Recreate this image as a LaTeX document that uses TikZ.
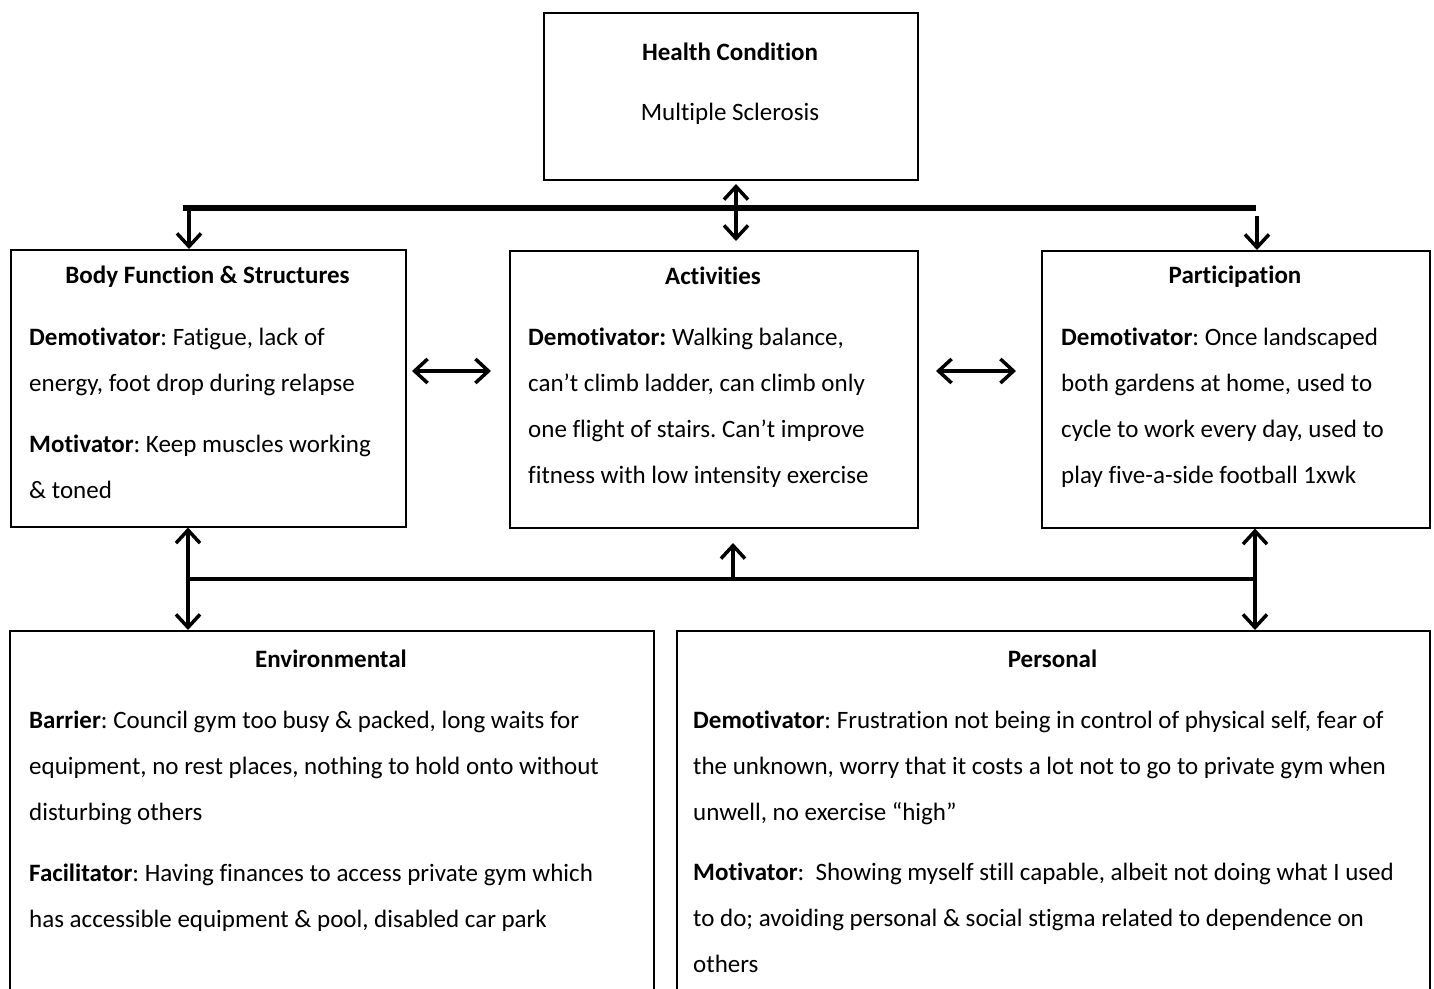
\documentclass[tikz,border=0pt]{standalone}
\usepackage{fontspec}
\setmainfont{Carlito}[Ligatures=NoCommon]
\usetikzlibrary{arrows.meta}
\frenchspacing

\tikzset{
  box/.style={draw, line width=1.5pt, inner sep=0pt, anchor=north west},
  boxtitle/.style={anchor=base, inner sep=0pt, font=\fontsize{25}{46}\selectfont\bfseries},
  boxtext/.style={anchor=base, inner sep=0pt, font=\fontsize{25}{46}\selectfont},
  para/.style={anchor=north west, inner sep=0pt, align=left, font=\fontsize{25}{46}\selectfont},
  bus/.style={line width=5.5pt},
  lowbus/.style={line width=4pt},
  arr/.style={line width=3.5pt, -{Straight Barb[length=13pt,width=24pt]}},
  dbl/.style={line width=3.5pt, {Straight Barb[length=13pt,width=24pt]}-{Straight Barb[length=13pt,width=24pt]}},
}

\begin{document}
\begin{tikzpicture}[x=1pt,y=-1pt]
\useasboundingbox (0,0) rectangle (1434,988);
\clip (0,0) rectangle (1434,988);
\fill[white] (0,0) rectangle (1434,988);

% boxes
\node[box, minimum width=374pt, minimum height=167pt] (hc) at (543,12) {};
\node[box, minimum width=395pt, minimum height=277pt] (bfs) at (10,249) {};
\node[box, minimum width=408pt, minimum height=277pt] (act) at (509,250) {};
\node[box, minimum width=388pt, minimum height=277pt] (par) at (1041,250) {};
\node[box, minimum width=644pt, minimum height=380pt] (env) at (9,630) {};
\node[box, minimum width=753pt, minimum height=380pt] (per) at (676,630) {};

% Health condition
\node[boxtitle] (hct) at (730,60) {Health Condition};
\node[boxtext] (hcx) at (730,120) {Multiple Sclerosis};

% Body function & structures
\node[boxtitle] (bfst) at (207.5,283) {Body Function \& Structures};
\node[para] (bfsa) at (29,312.8) {\strut\textbf{Demotivator}: Fatigue, lack of\\energy, foot drop during relapse};
\node[para] (bfsb) at (29,419.8) {\strut\textbf{Motivator}: Keep muscles working\\\& toned};

% Activities
\node[boxtitle] (actt) at (713,284) {Activities};
\node[para] (acta) at (528,312.8) {\strut\textbf{Demotivator:} Walking balance,\\can’t climb ladder, can climb only\\one flight of stairs. Can’t improve\\fitness with low intensity exercise};

% Participation
\node[boxtitle] (part) at (1235,283) {Participation};
\node[para] (para) at (1061,312.8) {\strut\textbf{Demotivator}: Once landscaped\\both gardens at home, used to\\cycle to work every day, used to\\play five-a-side football 1xwk};

% Environmental
\node[boxtitle] (envt) at (331,667) {Environmental};
\node[para] (enva) at (29,695.8) {\strut\textbf{Barrier}: Council gym too busy \& packed, long waits for\\equipment, no rest places, nothing to hold onto without\\disturbing others};
\node[para] (envb) at (29,848.8) {\strut\textbf{Facilitator}: Having finances to access private gym which\\has accessible equipment \& pool, disabled car park};

% Personal
\node[boxtitle] (pert) at (1052.5,667) {Personal};
\node[para] (pera) at (693,695.8) {\strut\textbf{Demotivator}: Frustration not being in control of physical self, fear of\\the unknown, worry that it costs a lot not to go to private gym when\\unwell, no exercise “high”};
\node[para] (perb) at (693,847.8) {\strut\textbf{Motivator}:\ \ Showing myself still capable, albeit not doing what I used\\to do; avoiding personal \& social stigma related to dependence on\\others};

% upper distribution bar
\coordinate (ub1) at (183,208);
\coordinate (ub2) at (1256,208);
\coordinate (ubl) at (189,208);
\coordinate (ubr) at (1257,216);
\draw[bus] (ub1) -- (ub2);
\draw[arr] (ubl) -- (ubl |- bfs.north);
\draw[arr] (ubr) -- (ubr |- par.north);
\coordinate (m1) at (736,184);
\coordinate (m2) at (736,241);
\draw[dbl] (m1) -- (m2);

% links between the middle row
\coordinate (h1) at (412,371);
\coordinate (h2) at (491,371);
\coordinate (h3) at (936,371);
\coordinate (h4) at (1016,371);
\draw[dbl] (h1) -- (h2);
\draw[dbl] (h3) -- (h4);

% lower distribution bar
\coordinate (lb1) at (188,579);
\coordinate (lb2) at (1255,579);
\coordinate (lbm) at (733,579);
\coordinate (lbmt) at (733,543);
\draw[lowbus] (lb1) -- (lb2);
\draw[dbl] (lb1 |- bfs.south) -- (lb1 |- env.north);
\draw[dbl] (lb2 |- par.south) -- (lb2 |- per.north);
\draw[arr] (lbm) -- (lbmt);
\end{tikzpicture}
\end{document}
